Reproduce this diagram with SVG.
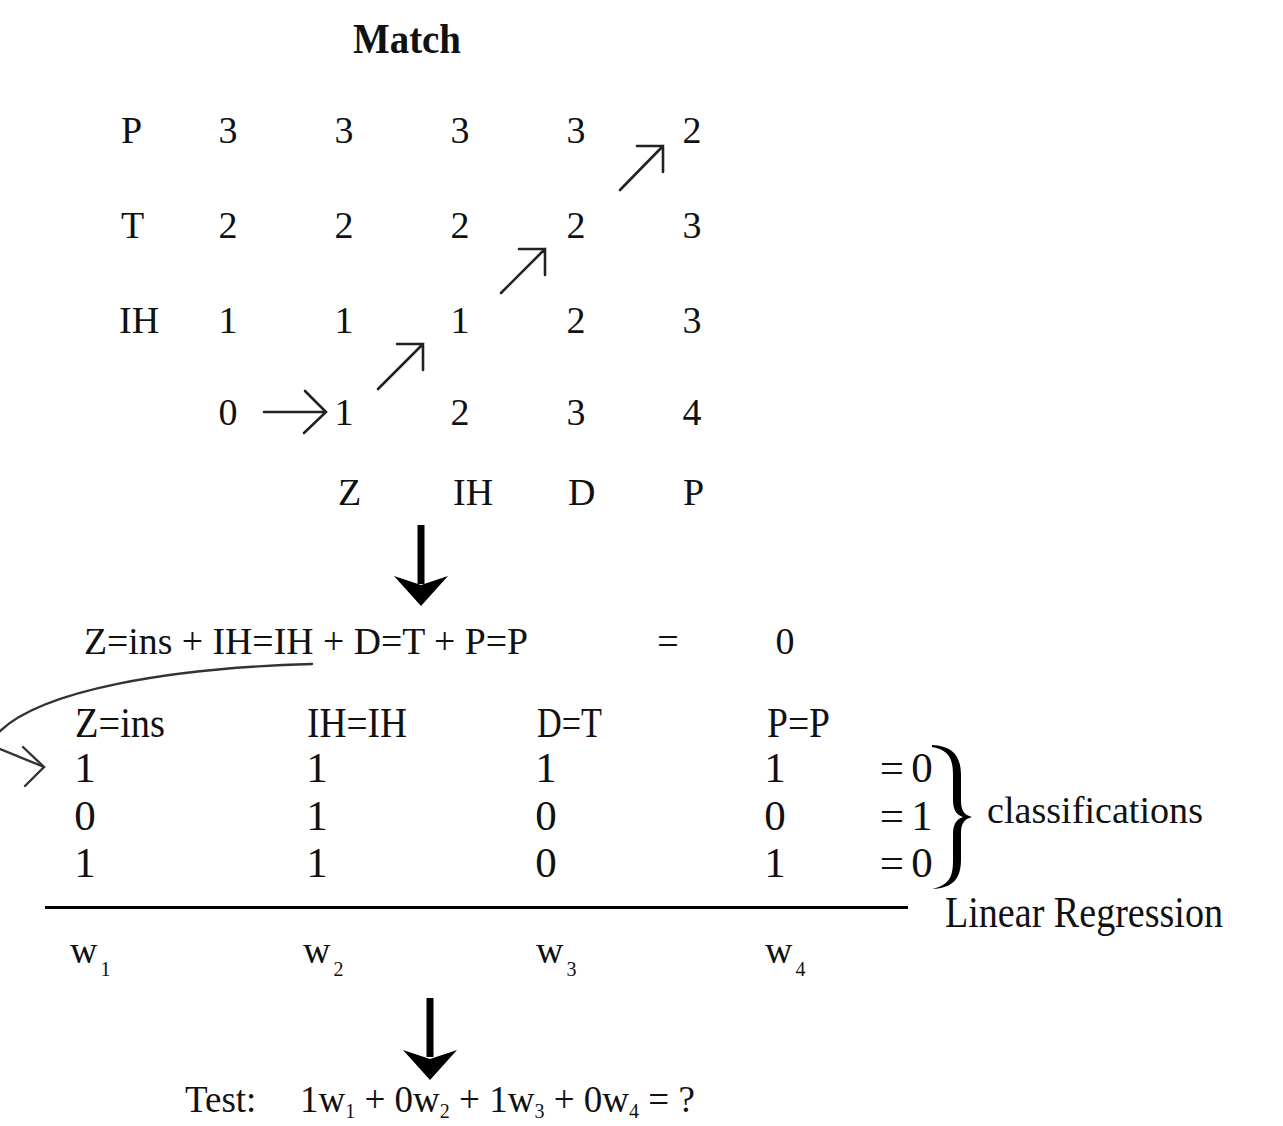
<svg xmlns="http://www.w3.org/2000/svg" width="1283" height="1126" viewBox="0 0 1283 1126">
  <style>
    text { font-family: "Liberation Serif", "Times New Roman", serif; fill: #111; }
    .m { font-size: 38px; }
    .mc { font-size: 38px; text-anchor: middle; }
    .t { font-size: 43px; }
    .tc { font-size: 43px; text-anchor: middle; }
    .sub { font-size: 20px; }
    .thin { fill: none; stroke: #222; stroke-width: 2.6; stroke-linecap: round; stroke-linejoin: miter; }
    .curve { fill: none; stroke: #333; stroke-width: 2.4; stroke-linecap: round; }
    .shaft { fill: none; stroke: #000; stroke-width: 7; }
    .head { fill: #000; }
  </style>

  <!-- heading of the alignment matrix -->
  <g id="match-title">
    <text x="353" y="53" font-size="42" font-weight="bold" textLength="108" lengthAdjust="spacingAndGlyphs">Match</text>
  </g>

  <!-- edit-distance matrix -->
  <g id="matrix">
    <text class="m" x="121" y="143">P</text>
    <text class="mc" x="228" y="143">3</text>
    <text class="mc" x="344" y="143">3</text>
    <text class="mc" x="460" y="143">3</text>
    <text class="mc" x="576" y="143">3</text>
    <text class="mc" x="692" y="143">2</text>

    <text class="m" x="121" y="238">T</text>
    <text class="mc" x="228" y="238">2</text>
    <text class="mc" x="344" y="238">2</text>
    <text class="mc" x="460" y="238">2</text>
    <text class="mc" x="576" y="238">2</text>
    <text class="mc" x="692" y="238">3</text>

    <text class="m" x="119" y="333">IH</text>
    <text class="mc" x="228" y="333">1</text>
    <text class="mc" x="344" y="333">1</text>
    <text class="mc" x="460" y="333">1</text>
    <text class="mc" x="576" y="333">2</text>
    <text class="mc" x="692" y="333">3</text>

    <text class="mc" x="228" y="425">0</text>
    <text class="mc" x="344" y="425">1</text>
    <text class="mc" x="460" y="425">2</text>
    <text class="mc" x="576" y="425">3</text>
    <text class="mc" x="692" y="425">4</text>

    <text class="m" x="338" y="505">Z</text>
    <text class="m" x="453" y="505">IH</text>
    <text class="m" x="568" y="505">D</text>
    <text class="m" x="683" y="505">P</text>
  </g>

  <!-- aligned pairs written as a sum -->
  <g id="alignment-eq">
    <text class="m" x="84" y="654" textLength="444" lengthAdjust="spacingAndGlyphs">Z=ins + IH=IH + D=T + P=P</text>
    <text class="mc" x="668" y="654">=</text>
    <text class="mc" x="785" y="654">0</text>
  </g>

  <!-- binary feature table -->
  <g id="feature-table">
    <text class="t" x="75" y="737" textLength="90" lengthAdjust="spacingAndGlyphs">Z=ins</text>
    <text class="t" x="307" y="737" textLength="100" lengthAdjust="spacingAndGlyphs">IH=IH</text>
    <text class="t" x="537" y="737" textLength="65" lengthAdjust="spacingAndGlyphs">D=T</text>
    <text class="t" x="767" y="737" textLength="63" lengthAdjust="spacingAndGlyphs">P=P</text>

    <text class="tc" x="85" y="782">1</text>
    <text class="tc" x="317" y="782">1</text>
    <text class="tc" x="546" y="782">1</text>
    <text class="tc" x="775" y="782">1</text>
    <text class="tc" x="892" y="782">=</text>
    <text class="tc" x="922" y="782">0</text>

    <text class="tc" x="85" y="830">0</text>
    <text class="tc" x="317" y="830">1</text>
    <text class="tc" x="546" y="830">0</text>
    <text class="tc" x="775" y="830">0</text>
    <text class="tc" x="892" y="830">=</text>
    <text class="tc" x="922" y="830">1</text>

    <text class="tc" x="85" y="877">1</text>
    <text class="tc" x="317" y="877">1</text>
    <text class="tc" x="546" y="877">0</text>
    <text class="tc" x="775" y="877">1</text>
    <text class="tc" x="892" y="877">=</text>
    <text class="tc" x="922" y="877">0</text>
  </g>

  <!-- brace grouping the class labels -->
  <g id="classifications">
    <path class="head" d="M932 745 C954 746 961 757 961 776 L961 801 C961 810 964 815 972 817 C964 819 961 824 961 833 L961 859 C961 878 954 888 932 889 C950 885 953 876 953 860 L953 834 C953 825 956 819 963 817 C956 815 953 809 953 800 L953 776 C953 760 950 750 932 747 Z"/>
    <text x="987" y="823" font-size="38" textLength="216" lengthAdjust="spacingAndGlyphs">classifications</text>
  </g>

  <!-- regression rule and label -->
  <g id="regression">
    <line x1="45" y1="907.5" x2="908" y2="907.5" stroke="#000" stroke-width="3"/>
    <text x="945" y="927" font-size="44" textLength="278" lengthAdjust="spacingAndGlyphs">Linear Regression</text>
  </g>

  <!-- learned weights -->
  <g id="weights">
    <text class="m" x="70" y="963">w<tspan class="sub" dx="3" dy="13">1</tspan></text>
    <text class="m" x="303" y="963">w<tspan class="sub" dx="3" dy="13">2</tspan></text>
    <text class="m" x="536" y="963">w<tspan class="sub" dx="3" dy="13">3</tspan></text>
    <text class="m" x="765" y="963">w<tspan class="sub" dx="3" dy="13">4</tspan></text>
  </g>

  <!-- test expression -->
  <g id="test">
    <text font-size="37" x="185" y="1112">Test:<tspan x="300">1w</tspan><tspan class="sub" dy="6">1</tspan><tspan dy="-6"> + 0w</tspan><tspan class="sub" dy="6">2</tspan><tspan dy="-6"> + 1w</tspan><tspan class="sub" dy="6">3</tspan><tspan dy="-6"> + 0w</tspan><tspan class="sub" dy="6">4</tspan><tspan dy="-6"> = ?</tspan></text>
  </g>

  <!-- connectors -->
  <g id="connectors">
    <!-- horizontal step 0 -> 1 -->
    <path class="thin" d="M264 412 L326 412 M305 391 L326 412 L304 433"/>
    <!-- diagonal match steps -->
    <path class="thin" d="M378 389 L423 344 M397 344 L423 344 L423 370"/>
    <path class="thin" d="M501 293 L545 249 M519 249 L545 249 L545 275"/>
    <path class="thin" d="M620 190 L663 146 M637 146 L663 146 L663 172"/>

    <!-- matrix to equation -->
    <line class="shaft" x1="421" y1="525" x2="421" y2="584"/>
    <path class="head" d="M394 576 L421 585 L448 576 L421 606 Z"/>

    <!-- equation to feature row -->
    <path class="curve" d="M312 664 C170 668 40 690 -2 733 L-12 744 L44 767"/>
    <path class="curve" d="M23 747 L44 767 L25 786"/>

    <!-- weights to test -->
    <line class="shaft" x1="430" y1="998" x2="430" y2="1057"/>
    <path class="head" d="M403 1050 L430 1059 L457 1050 L430 1080 Z"/>
  </g>
</svg>
